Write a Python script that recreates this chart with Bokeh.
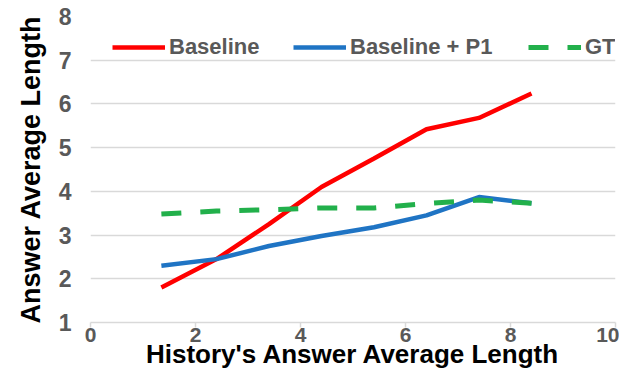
from bokeh.plotting import figure
from bokeh.models import Range1d, Legend, LegendItem, FixedTicker
from bokeh.embed import file_html
from bokeh.resources import INLINE

x_vals = [1.35, 2.4, 3.4, 4.4, 5.4, 6.4, 7.4, 8.4]
baseline = [1.8, 2.45, 3.25, 4.1, 4.75, 5.42, 5.68, 6.24]
baseline_p1 = [2.3, 2.45, 2.75, 2.98, 3.18, 3.45, 3.87, 3.73]
gt = [3.48, 3.55, 3.58, 3.62, 3.62, 3.72, 3.8, 3.73]
x_ticks = [0, 2, 4, 6, 8, 10]
y_ticks = [1, 2, 3, 4, 5, 6, 7, 8]

FONT = "Liberation Sans"
GRAY = "#595959"

p = figure(width=619, height=373, output_backend="svg", toolbar_location=None,
           x_range=Range1d(0, 10), y_range=Range1d(1, 8),
           min_border_left=90, min_border_right=4, min_border_top=16, min_border_bottom=51)
p.outline_line_color = None
p.background_fill_color = "white"
p.border_fill_color = "white"

r1 = p.line(x_vals, baseline, line_color="#ff0000", line_width=4.5)
r2 = p.line(x_vals, baseline_p1, line_color="#1f74c4", line_width=4.5)
r3 = p.line(x_vals, gt, line_color="#22b04b", line_width=5, line_dash="20 19")

p.xgrid.grid_line_color = None
p.ygrid.grid_line_color = "#d9d9d9"
p.ygrid.grid_line_width = 1.5
p.ygrid.ticker = FixedTicker(ticks=y_ticks)

p.xaxis.ticker = FixedTicker(ticks=x_ticks)
p.yaxis.ticker = FixedTicker(ticks=y_ticks)
p.xaxis.axis_line_color = "#d9d9d9"
p.xaxis.axis_line_width = 1.5
p.xaxis.major_tick_line_color = "#d9d9d9"
p.xaxis.major_tick_line_width = 1.5
p.xaxis.major_tick_in = 0
p.xaxis.major_tick_out = 5
p.xaxis.minor_tick_line_color = None
p.yaxis.axis_line_color = None
p.yaxis.major_tick_line_color = None
p.yaxis.major_tick_out = 0
p.yaxis.major_tick_in = 0
p.yaxis.minor_tick_line_color = None

for ax in (p.xaxis, p.yaxis):
    ax.major_label_text_font = FONT
    ax.major_label_text_font_style = "bold"
    ax.major_label_text_color = GRAY
    ax.axis_label_text_font = FONT
    ax.axis_label_text_font_style = "bold"
    ax.axis_label_text_color = "black"

p.yaxis.major_label_text_font_size = "23px"
p.yaxis.axis_label_text_font_size = "27px"
p.xaxis.major_label_text_font_size = "21px"
p.xaxis.axis_label_text_font_size = "26px"

p.xaxis.axis_label = "History's Answer Average Length"
p.yaxis.axis_label = "Answer Average Length"
p.xaxis.major_label_standoff = 0
p.xaxis.axis_label_standoff = -6
p.yaxis.major_label_standoff = 19
p.yaxis.axis_label_standoff = 10

def mk_legend(label, rend, loc):
    lg = Legend(items=[LegendItem(label=label, renderers=[rend])], location=loc,
                orientation="horizontal", background_fill_alpha=0, border_line_color=None,
                label_text_font=FONT, label_text_font_style="bold", label_text_font_size="22px",
                label_text_color=GRAY, glyph_width=53, glyph_height=24, label_height=24,
                label_standoff=4, padding=0, margin=0, spacing=0)
    p.add_layout(lg, "center")

mk_legend("Baseline", r1, (22, 262))
mk_legend("Baseline + P1", r2, (203, 262))
mk_legend("GT", r3, (438, 262))

open("out.html", "w").write(file_html(p, INLINE))
